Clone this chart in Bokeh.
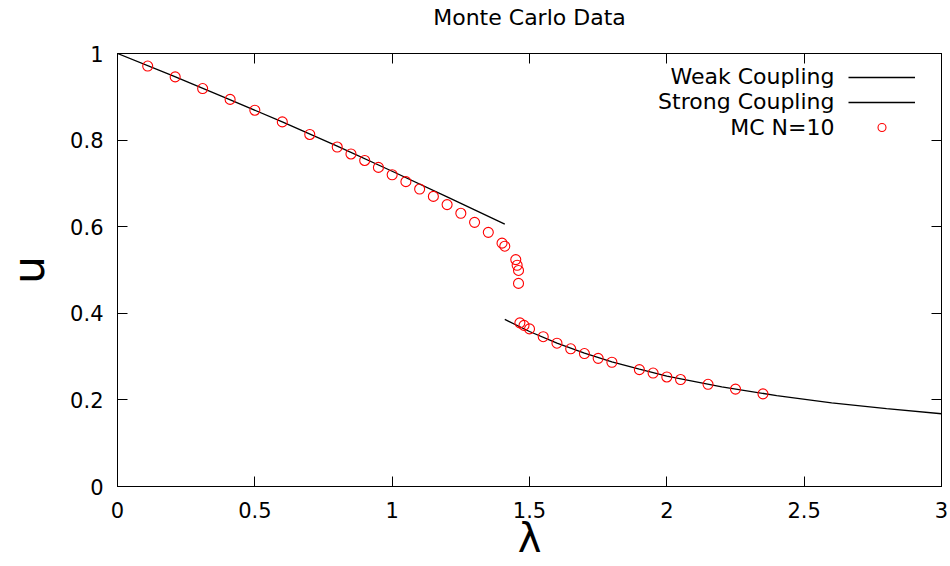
from bokeh.plotting import figure
from bokeh.models import (Range1d, LinearAxis, FixedTicker, CustomJSTickFormatter,
                          Label, Legend, LegendItem)
from bokeh.embed import file_html
from bokeh.resources import INLINE

# ---- data ----
mc_lambda = [0.11, 0.21, 0.31, 0.41, 0.50, 0.60, 0.70, 0.80, 0.85, 0.90, 0.95, 1.00,
             1.05, 1.10, 1.15, 1.20, 1.25, 1.30, 1.35, 1.40, 1.41, 1.45, 1.455, 1.46,
             1.46, 1.465, 1.48, 1.50, 1.55, 1.60, 1.65, 1.70, 1.75, 1.80, 1.90, 1.95,
             2.00, 2.05, 2.15, 2.25, 2.35]
mc_u = [0.971, 0.946, 0.919, 0.894, 0.869, 0.842, 0.813, 0.784, 0.768, 0.753, 0.737, 0.720,
        0.704, 0.687, 0.670, 0.651, 0.631, 0.610, 0.587, 0.562, 0.555, 0.524, 0.511, 0.499,
        0.469, 0.378, 0.372, 0.364, 0.346, 0.331, 0.318, 0.307, 0.296, 0.287, 0.270, 0.262,
        0.253, 0.247, 0.236, 0.225, 0.214]

weak_lambda = [0.0, 0.2, 0.4, 0.6, 0.8, 1.0, 1.2, 1.41]
weak_u = [1.0, 0.949, 0.896, 0.842, 0.786, 0.728, 0.669, 0.606]

strong_lambda = [1.41, 1.5, 1.6, 1.7, 1.8, 1.9, 2.0, 2.2, 2.4, 2.6, 2.8, 3.0]
strong_u = [0.386, 0.358, 0.331, 0.308, 0.288, 0.271, 0.255, 0.230, 0.210, 0.193, 0.180, 0.168]

x_ticks = [0, 0.5, 1, 1.5, 2, 2.5, 3]
y_ticks = [0, 0.2, 0.4, 0.6, 0.8, 1]

title_text = "Monte Carlo Data"
series_names = ["Weak Coupling", "Strong Coupling", "MC N=10"]
x_label = "λ"
y_label = "u"

FONT = "DejaVu Sans"
FS = "21px"
FS_BIG = "22px"

p = figure(width=950, height=566, output_backend="svg", toolbar_location=None,
           x_range=Range1d(0, 3), y_range=Range1d(0, 1),
           min_border_left=117, min_border_right=9, min_border_top=53, min_border_bottom=80)

p.xgrid.grid_line_color = None
p.ygrid.grid_line_color = None
p.outline_line_color = "black"
p.outline_line_width = 1
p.background_fill_color = "white"
p.border_fill_color = "white"

fmt = CustomJSTickFormatter(code="return (Math.round(tick*10)/10).toString();")

def style_axis(ax, ticks, labels=True):
    ax.ticker = FixedTicker(ticks=ticks)
    ax.formatter = fmt
    ax.major_tick_in = 10
    ax.major_tick_out = 0
    ax.major_tick_line_width = 1
    ax.minor_tick_line_color = None
    ax.axis_line_color = "black"
    ax.major_tick_line_color = "black"
    ax.major_label_text_font = FONT
    if labels:
        ax.major_label_text_font_size = FS
        ax.major_label_text_color = "black"
    else:
        ax.major_label_text_font_size = "1px"
        ax.major_label_text_color = None
        ax.major_label_standoff = 0

style_axis(p.xaxis[0], x_ticks)
style_axis(p.yaxis[0], y_ticks)
p.xaxis[0].major_label_standoff = 15
p.yaxis[0].major_label_standoff = 14

p.xaxis[0].axis_label = x_label
p.xaxis[0].axis_label_text_font = FONT
p.xaxis[0].axis_label_text_font_size = "40px"
p.xaxis[0].axis_label_text_font_style = "normal"
p.xaxis[0].axis_label_text_color = "black"
p.xaxis[0].axis_label_standoff = -6

p.yaxis[0].axis_label = y_label
p.yaxis[0].axis_label_text_font = FONT
p.yaxis[0].axis_label_text_font_size = "44px"
p.yaxis[0].axis_label_text_font_style = "normal"
p.yaxis[0].axis_label_text_color = "black"
p.yaxis[0].axis_label_standoff = 13

# mirrored top axis (ticks only) carries the chart title above the frame
top_ax = LinearAxis()
style_axis(top_ax, x_ticks, labels=False)
top_ax.axis_label = title_text
top_ax.axis_label_text_font = FONT
top_ax.axis_label_text_font_size = FS_BIG
top_ax.axis_label_text_font_style = "normal"
top_ax.axis_label_text_color = "black"
top_ax.axis_label_standoff = 24
p.add_layout(top_ax, "above")

right_ax = LinearAxis()
style_axis(right_ax, y_ticks, labels=False)
p.add_layout(right_ax, "right")

weak = p.line(weak_lambda, weak_u, line_color="black", line_width=1.3)
strong = p.line(strong_lambda, strong_u, line_color="black", line_width=1.3)
mc = p.scatter(mc_lambda, mc_u, marker="circle", size=10, fill_color=None,
               line_color="#ff0000", line_width=1.1)

legend = Legend(items=[LegendItem(label=" ", renderers=[weak]),
                       LegendItem(label=" ", renderers=[strong]),
                       LegendItem(label=" ", renderers=[mc])],
                location=(731, 349), orientation="vertical",
                glyph_width=67, glyph_height=20, label_height=20, label_width=1,
                spacing=5, padding=0, margin=0, label_standoff=0,
                background_fill_alpha=0, border_line_alpha=0,
                label_text_font_size="1px", label_text_color=None)
p.add_layout(legend)

for name, yb in zip(series_names, [409.7, 384.7, 359.0]):
    p.add_layout(Label(x=717, y=yb, x_units="screen", y_units="screen", text=name,
                       text_align="right", text_baseline="alphabetic",
                       text_font=FONT, text_font_size=FS_BIG, text_color="black"))

open("out.html", "w").write(file_html(p, INLINE))
